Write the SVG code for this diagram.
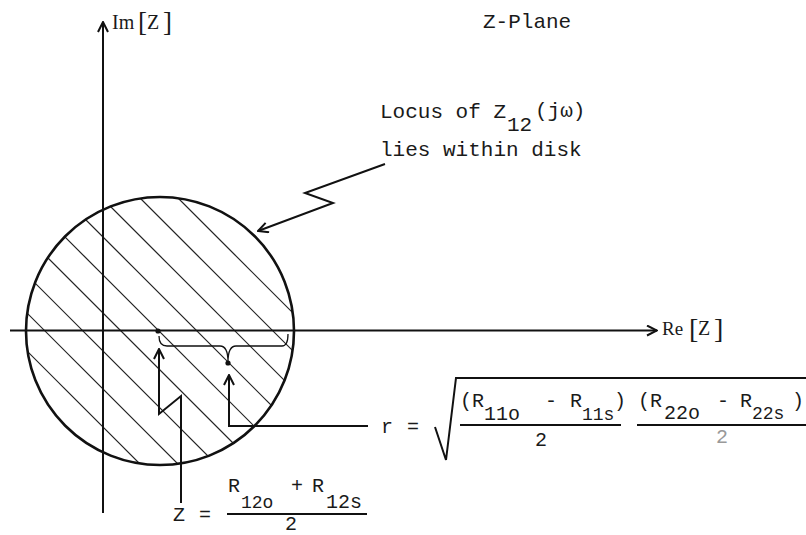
<svg xmlns="http://www.w3.org/2000/svg" width="806" height="535" viewBox="0 0 806 535">
<style>
.m{font-family:"Liberation Mono","DejaVu Sans Mono",monospace;font-size:21px;fill:#1a1a1a}
.f{font-family:"Liberation Mono","DejaVu Sans Mono",monospace;font-size:20px;fill:#1a1a1a}
.sb{font-size:18px}
.s{font-family:"Liberation Serif","DejaVu Serif",serif;fill:#1a1a1a}
.ln{fill:none;stroke:#111;stroke-width:2}
.th{fill:none;stroke:#111;stroke-width:1.3}
.hat{stroke:#222;stroke-width:1.2}
</style>
<defs>
<marker id="arr" viewBox="0 0 12 12" refX="11" refY="6" markerWidth="12" markerHeight="12" markerUnits="userSpaceOnUse" orient="auto">
<path d="M1,1 L11,6 L1,11" fill="none" stroke="#111" stroke-width="2"/>
</marker>
<clipPath id="disk"><circle cx="160" cy="331" r="134"/></clipPath>
</defs>
<rect width="806" height="535" fill="#fff"/>

<g id="disk-node">
<g clip-path="url(#disk)" class="hat">
<line x1="0" y1="20" x2="420" y2="440"/>
<line x1="0" y1="58" x2="420" y2="478"/>
<line x1="0" y1="96" x2="420" y2="516"/>
<line x1="0" y1="134" x2="420" y2="554"/>
<line x1="0" y1="172" x2="420" y2="592"/>
<line x1="0" y1="210" x2="420" y2="630"/>
<line x1="0" y1="248" x2="420" y2="668"/>
<line x1="0" y1="286" x2="420" y2="706"/>
<line x1="0" y1="324" x2="420" y2="744"/>
</g>
<circle cx="160" cy="331" r="134" fill="none" stroke="#111" stroke-width="2.6"/>
</g>

<g id="axes">
<line x1="103" y1="513" x2="103" y2="22" class="ln" marker-end="url(#arr)"/>
<line x1="10" y1="330.5" x2="657" y2="330.5" class="ln" marker-end="url(#arr)"/>
</g>

<g id="im-label">
<text x="112" y="29" class="s" font-size="20">Im</text>
<text x="138" y="31" class="s" font-size="27">[</text>
<text x="147" y="29" class="s" font-size="20">Z</text>
<text x="163" y="31" class="s" font-size="27">]</text>
</g>

<g id="re-label">
<text x="662" y="335" class="s" font-size="19">Re</text>
<text x="689" y="338" class="s" font-size="28">[</text>
<text x="698" y="335" class="s" font-size="20">Z</text>
<text x="714" y="338" class="s" font-size="28">]</text>
</g>

<g id="title">
<text x="483" y="28" class="m">Z-Plane</text>
</g>

<g id="locus-note">
<text x="380" y="118" class="m">Locus of Z</text>
<text x="507" y="131" class="m" font-size="20">12</text>
<text x="535" y="117" class="m" font-size="19">(jω)</text>
<text x="380" y="156" class="m">lies within disk</text>
</g>

<g id="center-markers">
<circle cx="158" cy="331" r="2.6" fill="#111"/>
<circle cx="228" cy="363" r="2.6" fill="#111"/>
<path class="th" d="M159,336 C159,342 161,346 167,346 L220,346 C225,346 228,350 228,362 C228,350 231,346 236,346 L282,346 C286,346 288,342 288,334"/>
</g>

<g id="connectors">
<polyline class="ln" points="385,164 305,193 333,203 258,231" marker-end="url(#arr)"/>
<polyline class="ln" points="181,503 181,396 159,414 159,349" marker-end="url(#arr)"/>
<polyline class="ln" points="368,426 229,426 229,375" marker-end="url(#arr)"/>
</g>

<g id="center-formula">
<text x="173" y="521" class="f">Z</text>
<text x="199" y="521" class="f">=</text>
<text x="228" y="492" class="f">R</text>
<text x="241" y="508" class="f sb">12o</text>
<text x="291" y="492" class="f">+</text>
<text x="312" y="492" class="f">R</text>
<text x="326" y="508" class="f">12s</text>
<line x1="227" y1="514" x2="367" y2="514" class="ln" stroke-width="1.6"/>
<text x="285" y="530" class="f">2</text>
</g>

<g id="radius-formula">
<text x="381" y="433" class="f">r</text>
<text x="407" y="433" class="f">=</text>
<path class="ln" stroke-width="1.8" d="M435,427 L446,460 L456,378 L806,378"/>
<text x="460" y="407" class="f">(R</text>
<text x="484" y="420" class="f">11o</text>
<text x="545" y="407" class="f">-</text>
<text x="570" y="407" class="f">R</text>
<text x="582" y="420" class="f sb">11s</text>
<text x="614" y="407" class="f">)</text>
<line x1="460" y1="425" x2="621" y2="425" class="ln" stroke-width="1.6"/>
<text x="535" y="446" class="f">2</text>
<text x="638" y="407" class="f">(R</text>
<text x="664" y="419" class="f">22o</text>
<text x="717" y="407" class="f">-</text>
<text x="740" y="407" class="f">R</text>
<text x="752" y="419" class="f sb">22s</text>
<text x="792" y="407" class="f">)</text>
<line x1="637" y1="425" x2="806" y2="425" class="ln" stroke-width="1.6"/>
<text x="716" y="443" class="f" style="fill:#999">2</text>
</g>
</svg>
